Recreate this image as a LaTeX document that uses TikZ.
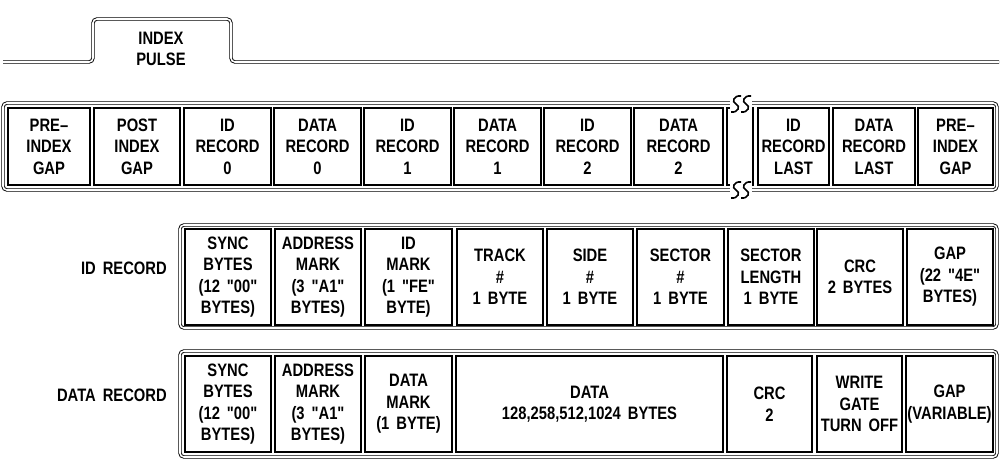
\documentclass[tikz,border=0pt]{standalone}
\usepackage{fontspec}
\setmainfont{Liberation Sans}[FakeStretch=0.82, WordSpace=1.7]
\newfontfamily\plainq{Liberation Sans}[FakeStretch=0.82]
\newcommand{\dq}{{\plainq\bfseries"}}
\begin{document}
\begin{tikzpicture}[x=1pt,y=-1pt,
  frame/.style={draw=black, line width=0.9pt, double=white, double distance=1.6pt, rounded corners=4pt},
  cell/.style={draw=black, line width=1.4pt, inner sep=0pt, align=center,
    font=\fontsize{18}{21.5}\selectfont\bfseries},
  lbl/.style={inner sep=0pt, align=center, font=\fontsize{18}{21.5}\selectfont\bfseries},
  sscurve/.style={draw=black, line width=1.6pt}
]
\useasboundingbox (0,0) rectangle (1000,461);
\newcommand{\mkcell}[6]{\node[cell, minimum width={(#3-#2)*1pt}, minimum height={(#5-#4)*1pt}] (#1) at ({(#2+#3)/2},{(#4+#5)/2}) {#6};}
\newcommand{\ssmark}[2]{%
  \fill[white] ({#1-11},{#2-8}) rectangle ({#1+11},{#2+8});
  \draw[sscurve] ({#1},{#2-8}) .. controls ({#1-7},{#2-9}) and ({#1-10},{#2-2}) .. ({#1-5},{#2}) .. controls ({#1},{#2+2}) and ({#1-3},{#2+9}) .. ({#1-10},{#2+8});
  \draw[sscurve] ({#1+10},{#2-8}) .. controls ({#1+3},{#2-9}) and ({#1},{#2-2}) .. ({#1+5},{#2}) .. controls ({#1+10},{#2+2}) and ({#1+7},{#2+9}) .. ({#1},{#2+8});
}

% index pulse
\draw[frame] (3,62) -- (93,62) -- (93,19) -- (231,19) -- (231,62) -- (999,62);
\node[lbl] (pulse) at (161,49) {INDEX\\PULSE};

% row 1: track layout
\draw[frame] (3,103) rectangle (997,190);
\mkcell{preA}{8}{90}{108}{185}{PRE--\\INDEX\\GAP}
\mkcell{post}{94}{180}{108}{185}{POST\\INDEX\\GAP}
\mkcell{idA}{184}{271}{108}{185}{ID\\RECORD\\0}
\mkcell{daA}{274}{361}{108}{185}{DATA\\RECORD\\0}
\mkcell{idB}{364}{451}{108}{185}{ID\\RECORD\\1}
\mkcell{daB}{454}{541}{108}{185}{DATA\\RECORD\\1}
\mkcell{idC}{544}{631}{108}{185}{ID\\RECORD\\2}
\mkcell{daC}{634}{723}{108}{185}{DATA\\RECORD\\2}
\mkcell{gapbox}{727}{753}{108}{185}{}
\mkcell{idL}{758}{829}{108}{185}{ID\\RECORD\\LAST}
\mkcell{daL}{833}{915}{108}{185}{DATA\\RECORD\\LAST}
\mkcell{preB}{918}{993}{108}{185}{PRE--\\INDEX\\GAP}
\ssmark{741}{104}
\ssmark{741}{190}

% row 2: ID record
\node[lbl, anchor=east] (idrec) at (167,268) {ID RECORD};
\draw[frame] (180,225) rectangle (997,328);
\mkcell{syncA}{185}{271}{229}{325}{SYNC\\BYTES\\(12 \dq00\dq\\BYTES)}
\mkcell{addrA}{275}{361}{229}{325}{ADDRESS\\MARK\\(3 \dq A1\dq\\BYTES)}
\mkcell{idmark}{365}{452}{229}{325}{ID\\MARK\\(1 \dq FE\dq\\BYTE)}
\mkcell{track}{457}{543}{229}{325}{TRACK\\\#\\1 BYTE}
\mkcell{side}{547}{633}{229}{325}{SIDE\\\#\\1 BYTE}
\mkcell{sector}{637}{724}{229}{325}{SECTOR\\\#\\1 BYTE}
\mkcell{seclen}{728}{814}{229}{325}{SECTOR\\LENGTH\\1 BYTE}
\mkcell{crcA}{817}{903}{229}{325}{CRC\\2 BYTES}
\mkcell{gapA}{907}{993}{229}{325}{GAP\\(22 \dq4E\dq\\BYTES)}

% row 3: data record
\node[lbl, anchor=east] (darec) at (167,395) {DATA RECORD};
\draw[frame] (180,351) rectangle (997,457);
\mkcell{syncB}{185}{271}{356}{452}{SYNC\\BYTES\\(12 \dq00\dq\\BYTES)}
\mkcell{addrB}{275}{361}{356}{452}{ADDRESS\\MARK\\(3 \dq A1\dq\\BYTES)}
\mkcell{datamark}{365}{452}{356}{452}{DATA\\MARK\\(1 BYTE)}
\mkcell{data}{456}{723}{356}{452}{DATA\\128,258,512,1024 BYTES}
\mkcell{crcB}{727}{812}{356}{452}{CRC\\2}
\mkcell{wgate}{817}{902}{356}{452}{WRITE\\GATE\\TURN OFF}
\mkcell{gapB}{906}{993}{356}{452}{GAP\\(VARIABLE)}
\end{tikzpicture}
\end{document}
